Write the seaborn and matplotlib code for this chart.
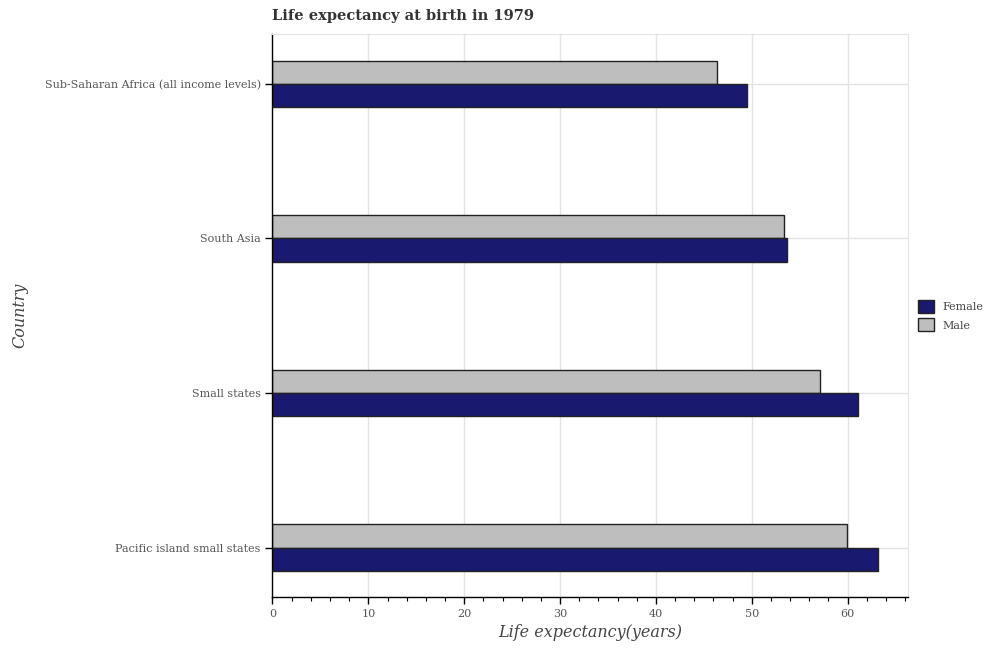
import matplotlib
matplotlib.use("Agg")
import matplotlib.pyplot as plt
import seaborn as sns
import pandas as pd
from matplotlib.ticker import MultipleLocator
from matplotlib.patches import Patch

countries = ["Sub-Saharan Africa (all income levels)", "South Asia", "Small states", "Pacific island small states"]
female = [49.5, 53.7, 61.1, 63.2]
male = [46.4, 53.4, 57.1, 59.9]
xticks = [0, 10, 20, 30, 40, 50, 60]

df = pd.DataFrame({
    "Country": countries * 2,
    "Life": male + female,
    "Sex": ["Male"] * len(countries) + ["Female"] * len(countries),
})

sns.set_style("white")
plt.rcParams["font.family"] = ["DejaVu Serif"]

fig = plt.figure(figsize=(9.93, 6.5), dpi=100)
ax = fig.add_axes([0.2744, 0.0815, 0.64, 0.8657])

colors = {"Female": "#191970", "Male": "#bebebe"}
sns.barplot(data=df, y="Country", x="Life", hue="Sex", hue_order=["Male", "Female"],
            order=countries, palette=colors, width=0.3, orient="h",
            edgecolor="#222222", linewidth=1, ax=ax, legend=False, saturation=1)

ax.set_xlim(0, 66.3)
ax.set_ylim(3.32, -0.32)
ax.set_xticks(xticks)
ax.xaxis.set_minor_locator(MultipleLocator(2))
ax.grid(True, which="major", color="#e3e3e3", linewidth=1)
ax.set_axisbelow(True)
for s in ["top", "right"]:
    ax.spines[s].set_color("#e3e3e3")
for s in ["left", "bottom"]:
    ax.spines[s].set_color("black")
    ax.spines[s].set_linewidth(1)

ax.tick_params(axis="both", which="major", direction="out", length=5, width=1,
               color="black", labelcolor="#555555", labelsize=8,
               bottom=True, left=True)
ax.tick_params(axis="x", which="minor", direction="out", length=3, width=0.8,
               color="black", bottom=True)

ax.set_xlabel("Life expectancy(years)", fontsize=11.5, style="italic", color="#444444")
ax.set_ylabel("Country", fontsize=11.5, style="italic", color="#444444", labelpad=12)
ax.set_title("Life expectancy at birth in 1979", fontsize=10.5, fontweight="bold",
             color="#333333", loc="left", pad=10)

handles = [Patch(facecolor=colors["Female"], edgecolor="#222222", label="Female"),
           Patch(facecolor=colors["Male"], edgecolor="#222222", label="Male")]
leg = ax.legend(handles=handles, loc="center left", bbox_to_anchor=(1.0, 0.5),
                frameon=False, fontsize=8, handlelength=1.4, handleheight=1.4)
for t in leg.get_texts():
    t.set_color("#444444")

fig.savefig("out.png", dpi=100)
